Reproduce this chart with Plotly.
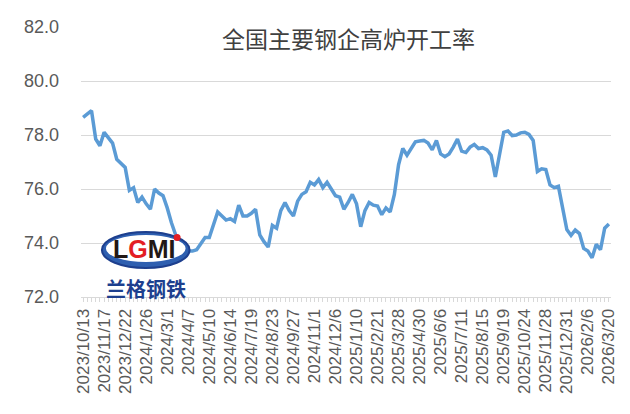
import datetime as dt
import plotly.graph_objects as go

# Labelled weekly dates (every fifth week is shown on the axis)
label_dates = [
    "2023/10/13", "2023/11/17", "2023/12/22", "2024/1/26", "2024/3/1",
    "2024/4/7", "2024/5/10", "2024/6/14", "2024/7/19", "2024/8/23",
    "2024/9/27", "2024/11/1", "2024/12/6", "2025/1/10", "2025/2/21",
    "2025/3/28", "2025/4/30", "2025/6/6", "2025/7/11", "2025/8/15",
    "2025/9/19", "2025/10/24", "2025/11/28", "2025/12/31", "2026/2/6",
    "2026/3/20",
]

# Blast furnace operating rate (%), weekly
rate = [
    78.65, 78.78, 78.90, 77.85, 77.60, 78.10, 77.90, 77.70, 77.10, 76.95,
    76.80, 75.95, 76.05, 75.50, 75.70, 75.45, 75.25, 76.00, 75.85, 75.75,
    75.30, 74.75, 74.30, 73.85, 73.70, 73.70, 73.70, 73.75, 74.00, 74.20,
    74.20, 74.65, 75.15, 75.00, 74.85, 74.90, 74.80, 75.40, 75.00, 75.00,
    75.10, 75.25, 74.30, 74.05, 73.85, 74.65, 74.55, 75.20, 75.50, 75.20,
    75.00, 75.55, 75.80, 75.90, 76.25, 76.15, 76.35, 76.05, 76.25, 76.00,
    75.75, 75.70, 75.25, 75.50, 75.80, 75.45, 74.60, 75.20, 75.50, 75.40,
    75.37, 75.05, 75.30, 75.15, 75.80, 76.90, 77.50, 77.25, 77.50, 77.75,
    77.78, 77.80, 77.70, 77.45, 77.80, 77.30, 77.20, 77.30, 77.55, 77.85,
    77.40, 77.35, 77.55, 77.65, 77.50, 77.53, 77.45, 77.25, 76.45, 77.30,
    78.10, 78.15, 77.98, 78.00, 78.08, 78.10, 78.02, 77.80, 76.65, 76.75,
    76.72, 76.15, 76.05, 76.10, 75.30, 74.50, 74.28, 74.48, 74.35, 73.80,
    73.70, 73.45, 73.95, 73.75, 74.55, 74.70,
]

y_ticks = [72, 74, 76, 78, 80, 82]


def fmt(d):
    return f"{d.year}/{d.month}/{d.day}"


# Build the full weekly category list: each labelled week followed by the
# unlabelled weeks up to the next label.
dates, tick_text = [], []
for i, lab in enumerate(label_dates):
    base = dt.datetime.strptime(lab, "%Y/%m/%d").date()
    steps = 5 if i < len(label_dates) - 1 else 1
    for k in range(steps):
        dates.append(fmt(base + dt.timedelta(days=7 * k)))
        tick_text.append(lab if k == 0 else "")
dates = dates[:len(rate)]
tick_text = tick_text[:len(rate)]

fig = go.Figure()
fig.add_trace(go.Scatter(
    x=dates, y=rate, mode="lines",
    line=dict(color="#5b9bd5", width=3.5),
    hoverinfo="x+y",
))

grey = "#595959"
fig.update_layout(
    width=630, height=414,
    margin=dict(l=81, r=17, t=27, b=117),
    paper_bgcolor="white", plot_bgcolor="white",
    showlegend=False,
    font=dict(family="Liberation Sans, Arial, sans-serif", color=grey),
    xaxis=dict(
        type="category",
        tickmode="array", tickvals=dates, ticktext=tick_text,
        tickangle=-90,
        tickfont=dict(size=17, color=grey, family="Liberation Sans, Arial"),
        showgrid=False,
        showline=True, linecolor="#d9d9d9", linewidth=1,
        ticks="outside", ticklen=4, tickcolor="#d9d9d9", tickwidth=1,
        range=[-0.5, len(rate) - 0.5],
    ),
    yaxis=dict(
        range=[72, 82], tickvals=y_ticks,
        ticktext=[f"{v:.1f}" for v in y_ticks],
        tickfont=dict(size=18, color=grey, family="Liberation Sans, Arial"),
        showgrid=True, gridcolor="#d9d9d9", gridwidth=1.3,
        zeroline=False, showline=False, ticks="",
        ticklabelstandoff=21,
    ),
)


def px_x(v):
    return (v - 81) / 532


def px_y(v):
    return (297 - v) / 270


# Chart title
fig.add_annotation(
    text="全国主要钢企高炉开工率", xref="paper", yref="paper",
    x=px_x(350), y=px_y(38), xanchor="center", yanchor="middle",
    showarrow=False,
    font=dict(size=23, color="#404040", family="Noto Sans CJK SC"),
)

# Company logo in the lower-left corner
fig.add_shape(
    type="circle", xref="paper", yref="paper", layer="above",
    x0=px_x(102), x1=px_x(190), y0=px_y(268), y1=px_y(232),
    fillcolor="#2e5fb0", line=dict(color="#1d3f8e", width=2),
)
fig.add_shape(
    type="circle", xref="paper", yref="paper", layer="above",
    x0=px_x(106), x1=px_x(186), y0=px_y(262), y1=px_y(235),
    fillcolor="white", line=dict(width=0),
)
fig.add_annotation(
    text="<b>L<span style='color:#e31e24'>G</span>MI</b>",
    xref="paper", yref="paper", x=px_x(145), y=px_y(249),
    xanchor="center", yanchor="middle", showarrow=False,
    font=dict(size=25, color="#231815", family="Liberation Sans"),
)
fig.add_shape(
    type="circle", xref="paper", yref="paper", layer="above",
    x0=px_x(174), x1=px_x(181), y0=px_y(241), y1=px_y(234),
    fillcolor="#e31e24", line=dict(width=0),
)
fig.add_annotation(
    text="<b>兰格钢铁</b>", xref="paper", yref="paper",
    x=px_x(146), y=px_y(288), xanchor="center", yanchor="middle",
    showarrow=False,
    font=dict(size=20, color="#1d3f8e", family="Noto Sans CJK SC"),
)

fig.write_html("out.html")
